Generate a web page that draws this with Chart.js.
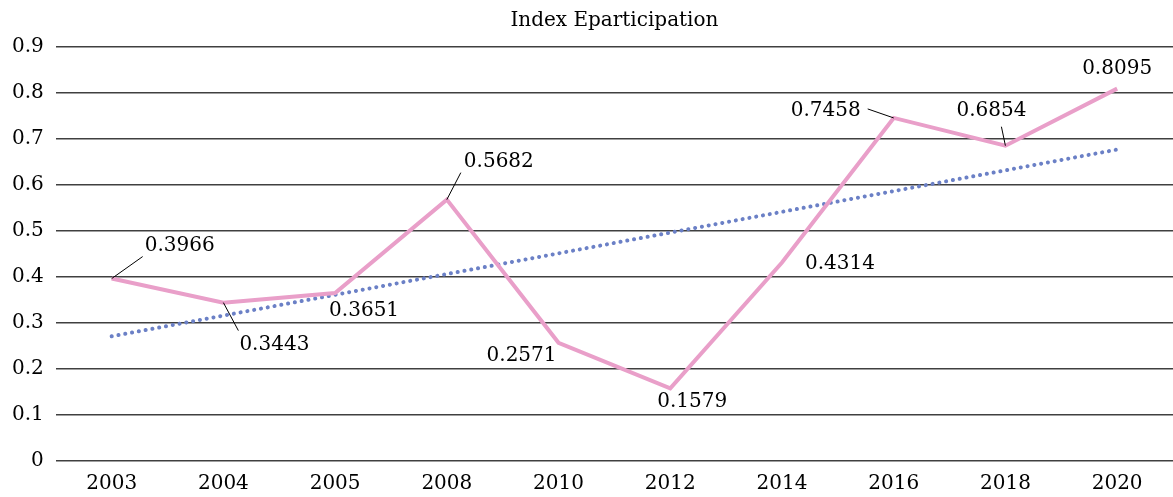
<!DOCTYPE html>
<html>
<head>
<meta charset="utf-8">
<script src="https://cdn.jsdelivr.net/npm/chart.js@4/dist/chart.umd.min.js"></script>
<style>
  html, body { margin: 0; padding: 0; background: #fff; }
  #wrap { width: 1173px; height: 497px; }
</style>
</head>
<body>
<div id="wrap"><canvas id="chart"></canvas></div>
<script>
// data
const years = ['2003', '2004', '2005', '2008', '2010', '2012', '2014', '2016', '2018', '2020'];
const eparticipation = [0.3966, 0.3443, 0.3651, 0.5682, 0.2571, 0.1579, 0.4314, 0.7458, 0.6854, 0.8095];
const trendYears = ['2003', '2020'];
const trendValues = [0.271, 0.677];
const yTicks = [0, 0.1, 0.2, 0.3, 0.4, 0.5, 0.6, 0.7, 0.8, 0.9];

// label placement (pixel offsets from the point) and leader line ends
const labelOffsets = [
    { dx: 68, dy: -33, lead: [31, -22] },
    { dx: 51, dy: 42, lead: [15, 28] },
    { dx: 29, dy: 18 },
    { dx: 52, dy: -38, lead: [14, -27] },
    { dx: -37, dy: 13 },
    { dx: 22, dy: 13 },
    { dx: 58, dy: 1 },
    { dx: -68, dy: -7, lead: [-26, -9] },
    { dx: -14, dy: -35, lead: [-4, -19] },
    { dx: 0, dy: -20 }
];

const FONT = 'DejaVu Serif';

const pointLabels = {
    id: 'pointLabels',
    afterDatasetsDraw(chart) {
        const ctx = chart.ctx;
        const meta = chart.getDatasetMeta(0);
        ctx.save();
        ctx.font = '20px "' + FONT + '"';
        ctx.fillStyle = '#000';
        ctx.textAlign = 'center';
        ctx.textBaseline = 'middle';
        ctx.strokeStyle = '#000';
        ctx.lineWidth = 1;
        meta.data.forEach((pt, i) => {
            const o = labelOffsets[i];
            if (o.lead) {
                ctx.beginPath();
                ctx.moveTo(pt.x, pt.y);
                ctx.lineTo(pt.x + o.lead[0], pt.y + o.lead[1]);
                ctx.stroke();
            }
            ctx.fillText(eparticipation[i].toFixed(4), pt.x + o.dx, pt.y + o.dy);
        });
        ctx.restore();
    }
};

new Chart(document.getElementById('chart').getContext('2d'), {
    type: 'line',
    data: {
        labels: years,
        datasets: [
            {
                label: 'Index Eparticipation',
                data: eparticipation,
                borderColor: '#E99FC9',
                borderWidth: 4,
                pointRadius: 0,
                tension: 0,
                order: 0
            },
            {
                label: 'Trend',
                data: trendYears.map((y, i) => ({ x: y, y: trendValues[i] })),
                borderColor: '#6B80C6',
                borderWidth: 4,
                borderCapStyle: 'round',
                borderDash: [0.1, 6.8],
                pointRadius: 0,
                order: 1
            }
        ]
    },
    options: {
        responsive: true,
        maintainAspectRatio: false,
        animation: false,
        layout: { padding: { left: 0, right: 0, bottom: -10 } },
        plugins: {
            legend: { display: false },
            tooltip: { enabled: false },
            title: {
                display: true,
                fullSize: false,
                text: 'Index Eparticipation',
                color: '#000',
                font: { family: FONT, size: 20, weight: 'normal' },
                padding: { top: 9, bottom: 14 }
            }
        },
        scales: {
            x: {
                offset: true,
                grid: { display: false, drawTicks: false },
                border: { display: false },
                ticks: {
                    color: '#000',
                    padding: 11,
                    maxRotation: 0,
                    font: { family: FONT, size: 20 }
                }
            },
            y: {
                min: 0,
                max: 0.9,
                afterBuildTicks(axis) {
                    axis.ticks = yTicks.map(v => ({ value: v }));
                },
                grid: { color: '#404040', lineWidth: 1.4, drawTicks: false },
                border: { display: false },
                ticks: {
                    color: '#000',
                    padding: 12,
                    font: { family: FONT, size: 20 },
                    callback: v => String(Math.round(v * 10) / 10)
                }
            }
        }
    },
    plugins: [pointLabels]
});
</script>
</body>
</html>
